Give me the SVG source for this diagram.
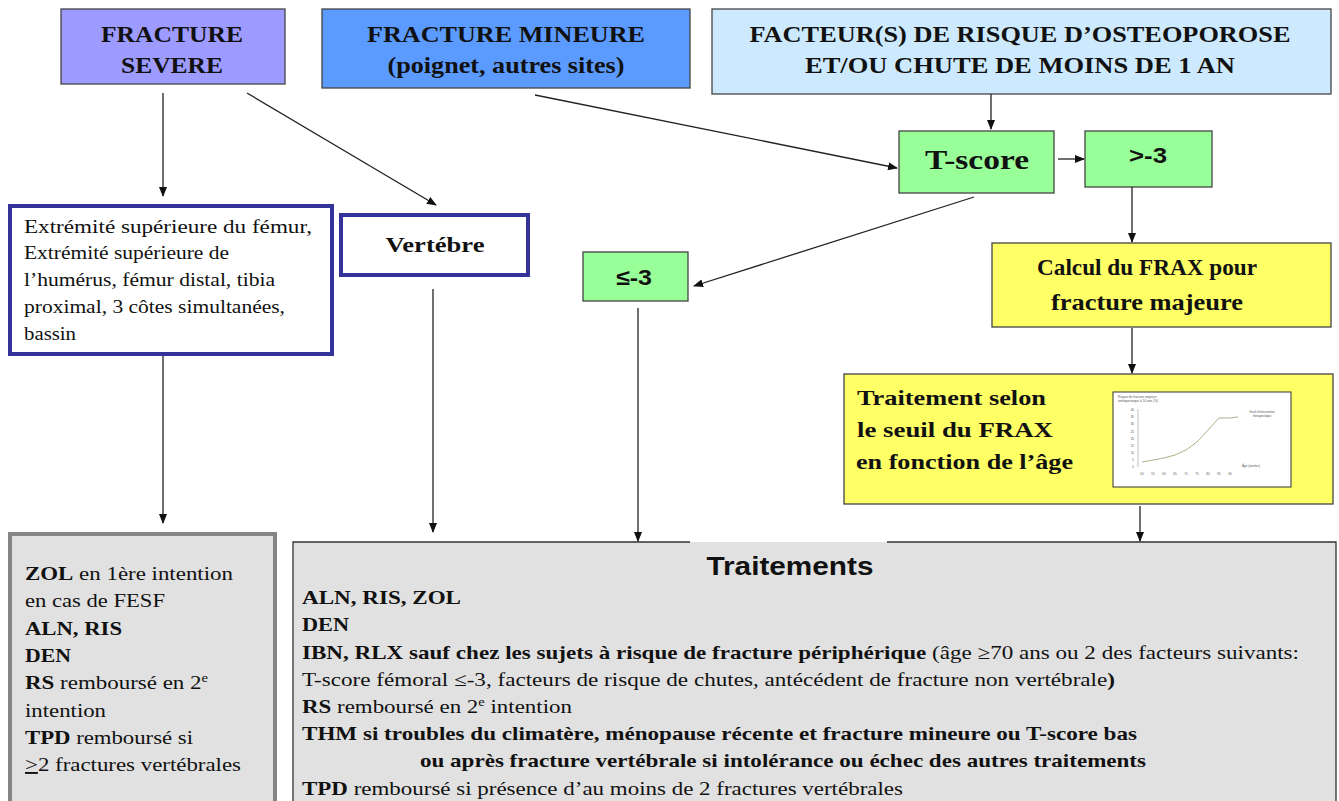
<svg xmlns="http://www.w3.org/2000/svg" width="1339" height="801" viewBox="0 0 1339 801">
<defs>
<marker id="arr" markerUnits="userSpaceOnUse" markerWidth="10" markerHeight="8" refX="9" refY="4" orient="auto">
<path d="M0,0 L10,4 L0,8 z" fill="#111"/>
</marker>
<style>
.hdr{font-family:'Liberation Serif','Times New Roman',Tinos,Times,serif;font-weight:bold;font-size:23px;fill:#111;text-anchor:middle}
.bs{font-family:'Liberation Serif','Times New Roman',Tinos,Times,serif;font-weight:bold;font-size:22px;fill:#111}
.sn{font-family:'Liberation Sans',Arial,Helvetica,sans-serif;font-weight:bold;fill:#111}
.tx{font-family:'Liberation Serif','Times New Roman',Tinos,Times,serif;font-size:19px;fill:#111}
.sm{font-family:'Liberation Sans',Arial,sans-serif;fill:#555}
.b{font-weight:bold}
.box{stroke:#444;stroke-width:1.3}
.grn{fill:#99ff99}
.yel{fill:#ffff66}
.conn line{stroke:#222;stroke-width:1.3;fill:none;marker-end:url(#arr)}
</style>
</defs>
<rect width="1339" height="801" fill="#fff"/>

<g id="fracture-severe">
<rect x="61" y="9" width="224" height="75" fill="#9d9bff" class="box"/>
<text class="hdr" x="172" y="42" textLength="142" lengthAdjust="spacingAndGlyphs">FRACTURE</text>
<text class="hdr" x="172" y="73" textLength="102" lengthAdjust="spacingAndGlyphs">SEVERE</text>
</g>

<g id="fracture-mineure">
<rect x="322" y="9" width="368" height="79" fill="#5b9bff" class="box"/>
<text class="hdr" x="506" y="42" textLength="278" lengthAdjust="spacingAndGlyphs">FRACTURE MINEURE</text>
<text class="hdr" x="506" y="73" textLength="237" lengthAdjust="spacingAndGlyphs">(poignet, autres sites)</text>
</g>

<g id="facteurs">
<rect x="712" y="9" width="619" height="85" fill="#cde9fd" class="box"/>
<text class="hdr" x="1020" y="42" textLength="541" lengthAdjust="spacingAndGlyphs">FACTEUR(S) DE RISQUE D’OSTEOPOROSE</text>
<text class="hdr" x="1020" y="73" textLength="430" lengthAdjust="spacingAndGlyphs">ET/OU CHUTE DE MOINS DE 1 AN</text>
</g>

<g id="tscore">
<rect x="899" y="131" width="155" height="62" class="box grn"/>
<text class="hdr" x="977" y="169" style="font-size:28px" textLength="104" lengthAdjust="spacingAndGlyphs">T-score</text>
</g>

<g id="sup-3">
<rect x="1085" y="131" width="127" height="56" class="box grn"/>
<text class="sn" x="1148" y="163" font-size="22" text-anchor="middle" textLength="38" lengthAdjust="spacingAndGlyphs">&gt;-3</text>
</g>

<g id="inf-3">
<rect x="583" y="252" width="105" height="49" class="box grn"/>
<text class="sn" x="634" y="285" font-size="22" text-anchor="middle" textLength="36" lengthAdjust="spacingAndGlyphs">≤-3</text>
</g>

<g id="frax">
<rect x="992" y="243" width="339" height="84" class="box yel"/>
<text class="hdr" x="1147" y="275" textLength="220" lengthAdjust="spacingAndGlyphs">Calcul du FRAX pour</text>
<text class="hdr" x="1147" y="310" textLength="192" lengthAdjust="spacingAndGlyphs">fracture majeure</text>
</g>

<g id="traitement-frax">
<rect x="844" y="374" width="489" height="130" class="box yel"/>
<text class="bs" x="857" y="405" textLength="189" lengthAdjust="spacingAndGlyphs">Traitement selon</text>
<text class="bs" x="857" y="437" textLength="196" lengthAdjust="spacingAndGlyphs">le seuil  du FRAX</text>
<text class="bs" x="856" y="469" textLength="217" lengthAdjust="spacingAndGlyphs">en fonction de l’âge</text>
<g id="chart">
<rect x="1113" y="392" width="178" height="95" fill="#fff" stroke="#333" stroke-width="1"/>
<text class="sm" x="1118" y="398" font-size="3.2">Risque de fracture majeure</text>
<text class="sm" x="1118" y="402" font-size="3.2">ostéoporotique à 10 ans (%)</text>
<line x1="1138" y1="409" x2="1138" y2="467" stroke="#999" stroke-width="0.6"/>
<g class="sm" font-size="3" text-anchor="end">
<text x="1134" y="468">0</text><text x="1134" y="461">5</text><text x="1134" y="454">10</text><text x="1134" y="447">15</text><text x="1134" y="440">20</text><text x="1134" y="433">25</text><text x="1134" y="425">30</text><text x="1134" y="418">35</text><text x="1134" y="411">40</text>
</g>
<g class="sm" font-size="3" text-anchor="middle">
<text x="1142" y="475">50</text><text x="1153" y="475">55</text><text x="1164" y="475">60</text><text x="1175" y="475">65</text><text x="1186" y="475">70</text><text x="1197" y="475">75</text><text x="1208" y="475">80</text><text x="1219" y="475">85</text><text x="1230" y="475">90</text>
</g>
<path d="M1142,462 L1153,460 L1164,458 L1175,455 L1186,450 L1197,442 L1208,430 L1219,418 L1230,418 L1238,417" fill="none" stroke="#9a9a6a" stroke-width="0.8"/>
<text class="sm" x="1262" y="413" font-size="3" text-anchor="middle">Seuil d’intervention</text>
<text class="sm" x="1262" y="417" font-size="3" text-anchor="middle">thérapeutique</text>
<text class="sm" x="1242" y="467" font-size="3">Âge (années)</text>
</g>
</g>

<g id="extremite">
<rect x="10" y="206" width="322" height="148" fill="#fff" stroke="#333399" stroke-width="4"/>
<text class="tx" x="24" y="233" textLength="288" lengthAdjust="spacingAndGlyphs">Extrémité supérieure du fémur,</text>
<text class="tx" x="24" y="259" textLength="205" lengthAdjust="spacingAndGlyphs">Extrémité supérieure de</text>
<text class="tx" x="24" y="286" textLength="251" lengthAdjust="spacingAndGlyphs">l’humérus, fémur distal, tibia</text>
<text class="tx" x="24" y="313" textLength="261" lengthAdjust="spacingAndGlyphs">proximal, 3 côtes simultanées,</text>
<text class="tx" x="24" y="340" textLength="52" lengthAdjust="spacingAndGlyphs">bassin</text>
</g>

<g id="vertebre">
<rect x="341" y="215" width="187" height="60" fill="#fff" stroke="#333399" stroke-width="4"/>
<text class="hdr" x="435" y="252" style="font-size:21px" textLength="99" lengthAdjust="spacingAndGlyphs">Vertébre</text>
</g>

<g id="traitement-severe">
<rect x="10" y="534" width="265" height="270" fill="#e1e1e1" stroke="#858585" stroke-width="4"/>
<text class="tx" x="25" y="580" textLength="208" lengthAdjust="spacingAndGlyphs"><tspan class="b">ZOL</tspan> en 1ère intention</text>
<text class="tx" x="25" y="607" textLength="140" lengthAdjust="spacingAndGlyphs">en cas de FESF</text>
<text class="tx b" x="25" y="635" textLength="97" lengthAdjust="spacingAndGlyphs">ALN, RIS</text>
<text class="tx b" x="25" y="662" textLength="46" lengthAdjust="spacingAndGlyphs">DEN</text>
<text class="tx" x="25" y="689" textLength="183" lengthAdjust="spacingAndGlyphs"><tspan class="b">RS</tspan> remboursé en 2<tspan font-size="12" dy="-7">e</tspan></text>
<text class="tx" x="25" y="717" textLength="81" lengthAdjust="spacingAndGlyphs">intention</text>
<text class="tx" x="25" y="744" textLength="168" lengthAdjust="spacingAndGlyphs"><tspan class="b">TPD</tspan> remboursé si</text>
<text class="tx" x="25" y="771" textLength="216" lengthAdjust="spacingAndGlyphs"><tspan text-decoration="underline">&gt;</tspan>2 fractures vertébrales</text>
</g>

<g id="traitements">
<rect x="293" y="542" width="1043" height="262" fill="#e1e1e1"/>
<path d="M293,804 V542 H690 M887,542 H1336 V804" fill="none" stroke="#333" stroke-width="1.3"/>
<text class="sn" x="790" y="575" font-size="26" text-anchor="middle" textLength="167" lengthAdjust="spacingAndGlyphs">Traitements</text>
<text class="tx b" x="302" y="604" textLength="159" lengthAdjust="spacingAndGlyphs">ALN, RIS, ZOL</text>
<text class="tx b" x="302" y="631" textLength="47" lengthAdjust="spacingAndGlyphs">DEN</text>
<text class="tx" x="302" y="659" textLength="997" lengthAdjust="spacingAndGlyphs"><tspan class="b">IBN, RLX sauf chez les sujets à risque de fracture périphérique</tspan> (âge ≥70 ans ou 2 des facteurs suivants:</text>
<text class="tx" x="302" y="686" textLength="813" lengthAdjust="spacingAndGlyphs">T-score fémoral ≤-3, facteurs de risque de chutes, antécédent de fracture non vertébrale<tspan class="b">)</tspan></text>
<text class="tx" x="302" y="713" textLength="270" lengthAdjust="spacingAndGlyphs"><tspan class="b">RS</tspan> remboursé en 2<tspan font-size="12" dy="-7">e</tspan><tspan dy="7"> intention</tspan></text>
<text class="tx b" x="302" y="740" textLength="835" lengthAdjust="spacingAndGlyphs">THM si troubles du climatère, ménopause récente et fracture mineure ou T-score bas</text>
<text class="tx b" x="420" y="767" textLength="726" lengthAdjust="spacingAndGlyphs">ou après fracture vertébrale si intolérance ou échec des autres traitements</text>
<text class="tx" x="302" y="795" textLength="601" lengthAdjust="spacingAndGlyphs"><tspan class="b">TPD</tspan> remboursé si présence d’au moins de 2 fractures vertébrales</text>
</g>

<g id="connectors" class="conn">
<line x1="163" y1="93" x2="163" y2="196"/>
<line x1="247" y1="93" x2="436" y2="205"/>
<line x1="535" y1="95" x2="897" y2="168"/>
<line x1="991" y1="94" x2="991" y2="129"/>
<line x1="1058" y1="159" x2="1084" y2="159"/>
<line x1="974" y1="197" x2="694" y2="286"/>
<line x1="1132" y1="187" x2="1132" y2="242"/>
<line x1="1132" y1="328" x2="1132" y2="373"/>
<line x1="163" y1="356" x2="163" y2="523"/>
<line x1="433" y1="289" x2="433" y2="532"/>
<line x1="638" y1="308" x2="638" y2="541"/>
<line x1="1140" y1="506" x2="1140" y2="541"/>
</g>
</svg>
